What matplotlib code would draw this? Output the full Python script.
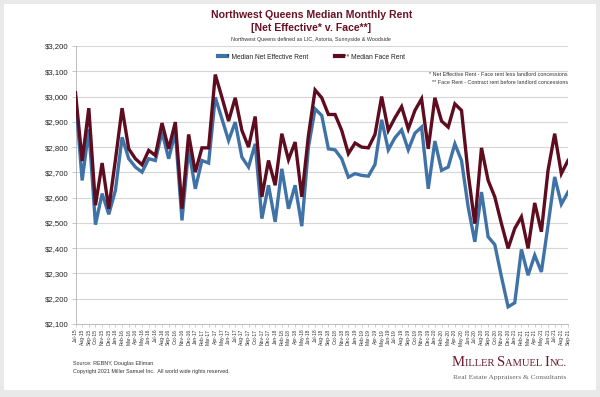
import matplotlib
matplotlib.use("Agg")
import matplotlib.pyplot as plt
import numpy as np
import pandas as pd
from matplotlib.patches import Rectangle
from matplotlib.ticker import FuncFormatter, MultipleLocator

months = [d.strftime("%b-%y") for d in pd.date_range("2015-07-01", "2021-09-01", freq="MS")]

net_effective = [2995, 2668, 2870, 2493, 2616, 2534, 2629, 2839, 2754, 2721, 2701, 2754, 2747, 2860,
                 2754, 2859, 2510, 2793, 2635, 2747, 2737, 2997, 2912, 2826, 2899, 2760, 2721, 2813, 2517,
                 2649, 2504, 2714, 2556, 2649, 2487, 2800, 2951, 2925, 2793, 2789, 2754, 2681, 2695, 2688,
                 2685, 2731, 2908, 2789, 2837, 2868, 2789, 2855, 2879, 2635, 2824, 2708, 2721, 2813, 2747,
                 2563, 2425, 2622, 2445, 2414, 2287, 2168, 2184, 2395, 2293, 2372, 2306, 2491, 2682, 2574, 2622]
face_rent = [3015, 2745, 2954, 2570, 2737, 2556, 2750, 2954, 2793, 2754, 2730, 2787, 2767, 2895,
             2793, 2899, 2556, 2850, 2701, 2797, 2797, 3087, 2997, 2903, 2995, 2866, 2800, 2921, 2603,
             2747, 2649, 2853, 2750, 2820, 2603, 2846, 3026, 2995, 2929, 2929, 2866, 2774, 2816, 2800,
             2797, 2850, 3000, 2866, 2916, 2960, 2872, 2945, 2991, 2793, 2995, 2903, 2879, 2971, 2945,
             2695, 2497, 2797, 2668, 2603, 2497, 2399, 2478, 2524, 2399, 2579, 2465, 2708, 2853, 2695, 2747]

BLUE = "#3f73a8"
MAROON = "#5e0c1f"
TITLE_C = "#6a1327"

plt.rcParams['font.family'] = ['Liberation Sans', 'DejaVu Sans']

fig = plt.figure(figsize=(6.0, 3.97), dpi=100)
fig.patch.set_facecolor("#e9e9e9")
W, H = 600, 397
def fx(px): return px / W
def fy(py): return 1 - py / H

bg = Rectangle((fx(4), fy(390)), fx(596) - fx(4), fy(4) - fy(390),
               transform=fig.transFigure, facecolor="white", edgecolor="none", zorder=-10)
fig.add_artist(bg)

L, R, T, B = 75.5, 568, 46, 324
ax = fig.add_axes([fx(L), fy(B), fx(R) - fx(L), fy(T) - fy(B)])
ax.set_zorder(1)
ax.set_facecolor("none")
x = np.arange(len(months))
ax.plot(x, net_effective, color=BLUE, lw=2.4, solid_joinstyle="miter", label="* Median Net Effective Rent", zorder=3)
ax.plot(x, face_rent, color=MAROON, lw=2.4, solid_joinstyle="miter", label="** Median Face Rent", zorder=4)

ax.set_xlim(0, len(months) - 1)
ax.set_ylim(2100, 3200)
ax.yaxis.set_major_locator(MultipleLocator(100))
ax.yaxis.set_major_formatter(FuncFormatter(lambda v, p: f"${v:,.0f}"))
ax.grid(axis="y", color="#d6d6d6", lw=0.8)
ax.set_axisbelow(True)
for s in ["top", "right"]:
    ax.spines[s].set_visible(False)
ax.spines["left"].set_color("#bdbdbd")
ax.spines["bottom"].set_color("#bdbdbd")
ax.spines["left"].set_linewidth(0.7)
ax.spines["bottom"].set_linewidth(0.7)
ax.tick_params(axis="y", labelsize=5.6, length=3, color="#bdbdbd", width=0.6, pad=2, labelcolor="#222222")
ax.set_xticks(x)
ax.set_xticklabels(months, rotation=90, fontsize=3.6, color="#333333")
ax.tick_params(axis="x", length=2, color="#bdbdbd", width=0.5, pad=1.5)

leg = ax.legend(loc="center", bbox_to_anchor=((311.5 - L) / (R - L), 1 - (57.3 - T) / (B - T)), ncol=2,
                frameon=False, fontsize=4.8, handlelength=1.3, handletextpad=0.1, columnspacing=3.9,
                borderaxespad=0, borderpad=0)
for t in leg.get_texts():
    t.set_color("#222222")
for h in leg.get_lines():
    h.set_linewidth(3.0)

fig.text(fx(311.5), fy(15), "Northwest Queens Median Monthly Rent", ha="center", va="center",
         fontsize=7.6, fontweight="bold", color=TITLE_C)
fig.text(fx(311.5), fy(28), "[Net Effective* v. Face**]", ha="center", va="center",
         fontsize=7.6, fontweight="bold", color=TITLE_C)
fig.text(fx(311), fy(39), "Northwest Queens defined as LIC, Astoria, Sunnyside & Woodside", ha="center",
         va="center", fontsize=3.9, color="#333333")

fig.text(fx(568), fy(75), "* Net Effective Rent - Face rent less landlord concessions", ha="right",
         va="center", fontsize=3.9, color="#333333")
fig.text(fx(568), fy(83), "** Face Rent - Contract rent before landlord concessions", ha="right",
         va="center", fontsize=3.9, color="#333333")

fig.text(fx(73), fy(363), "Source: REBNY, Douglas Elliman", ha="left", va="center", fontsize=3.9, color="#333333")
fig.text(fx(73), fy(372), "Copyright 2021 Miller Samuel Inc.  All world wide rights reserved.", ha="left",
         va="center", fontsize=3.9, color="#333333")

# Logo in small caps
fig.canvas.draw()
renderer = fig.canvas.get_renderer()
pieces = [("M", 10.5), ("ILLER ", 7.6), ("S", 10.5), ("AMUEL ", 7.6), ("I", 10.5), ("NC.", 7.6)]
cur = 452
for txt, fs in pieces:
    t = fig.text(fx(cur), fy(366), txt, ha="left", va="baseline", fontsize=fs,
                 family=["Liberation Serif", "DejaVu Serif"], color="#6b1a2c")
    bb = t.get_window_extent(renderer)
    cur += bb.width
fig.text(fx(510), fy(377), "Real Estate Appraisers & Consultants", ha="center", va="center", fontsize=5.4,
         family=["Liberation Serif", "DejaVu Serif"], color="#666666")

fig.savefig("out.png", dpi=100, facecolor=fig.get_facecolor())
